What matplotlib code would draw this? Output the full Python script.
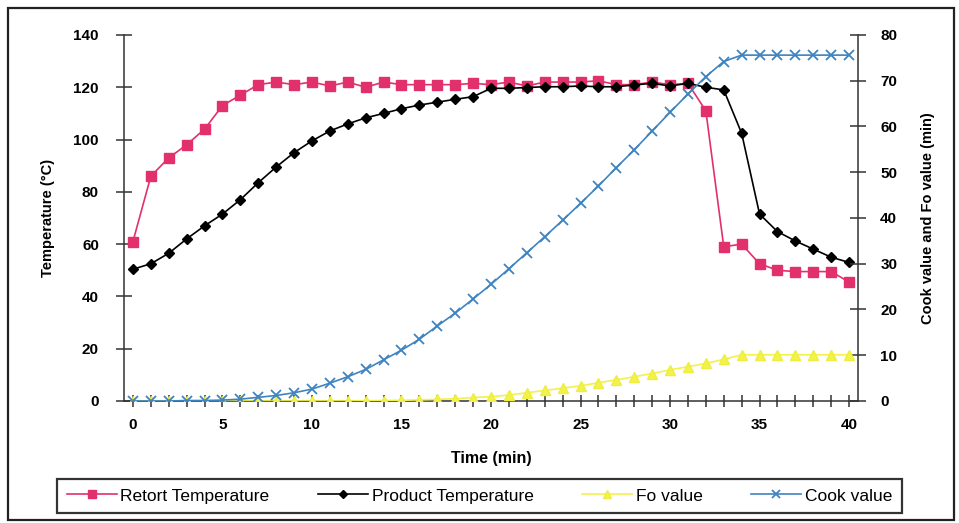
import matplotlib.pyplot as plt
import matplotlib.patches as patches
import numpy as np

# time in minutes
time_min = list(range(0, 41))

retort_temp = [61, 86, 93, 98, 104, 113, 117, 121, 122, 121,
               122, 120.5, 122, 120, 122, 121, 121, 121, 121, 121.5,
               121, 122, 120.5, 122, 122, 122, 122.5, 121, 121, 122,
               121, 121.5, 111, 59, 60, 52.5, 50, 49.5, 49.5, 49.5,
               45.5]

product_temp = [50.4, 52.5, 56.5, 62, 67, 71.5, 77, 83.5, 89.5, 95,
                99.5, 103.3, 106, 108.3, 110, 111.8, 113.2, 114.3, 115.4, 116.4,
                119.6, 119.6, 119.9, 120.2, 120.2, 120.5, 120.2, 120.2, 120.9, 121.5,
                120.5, 121.5, 120, 119, 102.4, 71.5, 64.8, 61.2, 58.1, 55,
                53]

fo_value = [0, 0, 0, 0, 0, 0, 0, 0, 0, 0,
            0, 0, 0, 0.05, 0.1, 0.15, 0.25, 0.35, 0.5, 0.75,
            0.95, 1.3, 1.8, 2.3, 2.8, 3.3, 4.0, 4.6, 5.3, 6.0,
            6.8, 7.5, 8.2, 9.1, 10.1, 10.1, 10.1, 10.1, 10.1, 10.1,
            10.1]

cook_value = [0, 0, 0, 0.1, 0.1, 0.2, 0.4, 0.8, 1.2, 1.8,
              2.6, 3.9, 5.3, 6.9, 9.0, 11.1, 13.5, 16.4, 19.2, 22.3,
              25.5, 28.9, 32.4, 35.9, 39.5, 43.2, 47, 51, 54.9, 59,
              63.1, 67.1, 70.9, 74.2, 75.6, 75.6, 75.6, 75.6, 75.6, 75.6,
              75.6]

plt.rcParams['font.family'] = ['Liberation Sans', 'DejaVu Sans']

fig = plt.figure(figsize=(9.59, 5.23), dpi=100)
ax1 = fig.add_axes([0.1293, 0.2333, 0.7654, 0.6998])
ax2 = ax1.twinx()

l_retort, = ax1.plot(time_min, retort_temp, color='#e2306c', lw=1.2,
                     marker='s', ms=6.5, mec='#e2306c', label='Retort Temperature', zorder=4)
l_product, = ax1.plot(time_min, product_temp, color='black', lw=1.2,
                      marker='D', ms=5, label='Product Temperature', zorder=5)
l_fo, = ax2.plot(time_min, fo_value, color='#f2f24a', lw=1.2,
                 marker='^', ms=7, mec='#eeee40', label='Fo value', zorder=3)
l_cook, = ax2.plot(time_min, cook_value, color='#3f83c0', lw=1.2,
                   marker='x', ms=7, mew=1.3, label='Cook value', zorder=4)

ax1.set_xlim(-0.5, 40.5)
ax1.set_ylim(0, 140)
ax2.set_ylim(0, 80)
ax1.set_yticks(np.arange(0, 141, 20))
ax2.set_yticks(np.arange(0, 81, 10))
ax1.set_xticks(np.arange(0, 41, 5))
ax1.set_xticks(np.arange(0, 41, 1), minor=True)

for ax in (ax1, ax2):
    ax.spines['top'].set_visible(False)
    ax.patch.set_visible(False)
ax1.spines['right'].set_visible(False)
ax2.spines['left'].set_visible(False)
ax2.spines['bottom'].set_visible(False)
for sp in (ax1.spines['left'], ax1.spines['bottom'], ax2.spines['right']):
    sp.set_color('#333333')
    sp.set_linewidth(1.1)

ax1.tick_params(axis='y', direction='inout', length=12, width=1.1, color='#333333',
                labelsize=11, pad=12)
ax2.tick_params(axis='y', direction='inout', length=12, width=1.1, color='#333333',
                labelsize=11, pad=10)
ax1.tick_params(axis='x', which='both', direction='inout', length=8, width=1.1,
                color='#333333', labelsize=11, pad=8)
for lab in ax1.get_xticklabels() + ax1.get_yticklabels() + ax2.get_yticklabels():
    lab.set_fontweight('bold')

ax1.set_xlabel('Time (min)', fontsize=11.5, fontweight='bold', labelpad=14)
ax1.set_ylabel('Temperature (°C)', fontsize=10.5, fontweight='bold', labelpad=13)
ax2.set_ylabel('Cook value and Fo value (min)', fontsize=10.5, fontweight='bold',
               labelpad=17)

leg = fig.legend(handles=[l_retort, l_product, l_fo, l_cook], ncol=4,
                 loc='lower left', bbox_to_anchor=(0.0594, 0.019, 0.881, 0.065),
                 mode='expand', borderaxespad=0, fontsize=12.5,
                 frameon=True, fancybox=False, edgecolor='black',
                 handlelength=2.9, handletextpad=0.2,
                 borderpad=0.55, markerscale=0.8)
leg.get_frame().set_linewidth(1.6)

# outer frame around the whole chart
fig.patches.append(patches.Rectangle((0.008, 0.006), 0.987, 0.979,
                                     transform=fig.transFigure, fill=False,
                                     edgecolor='#222222', linewidth=1.6))

fig.savefig('out.png', dpi=100)
